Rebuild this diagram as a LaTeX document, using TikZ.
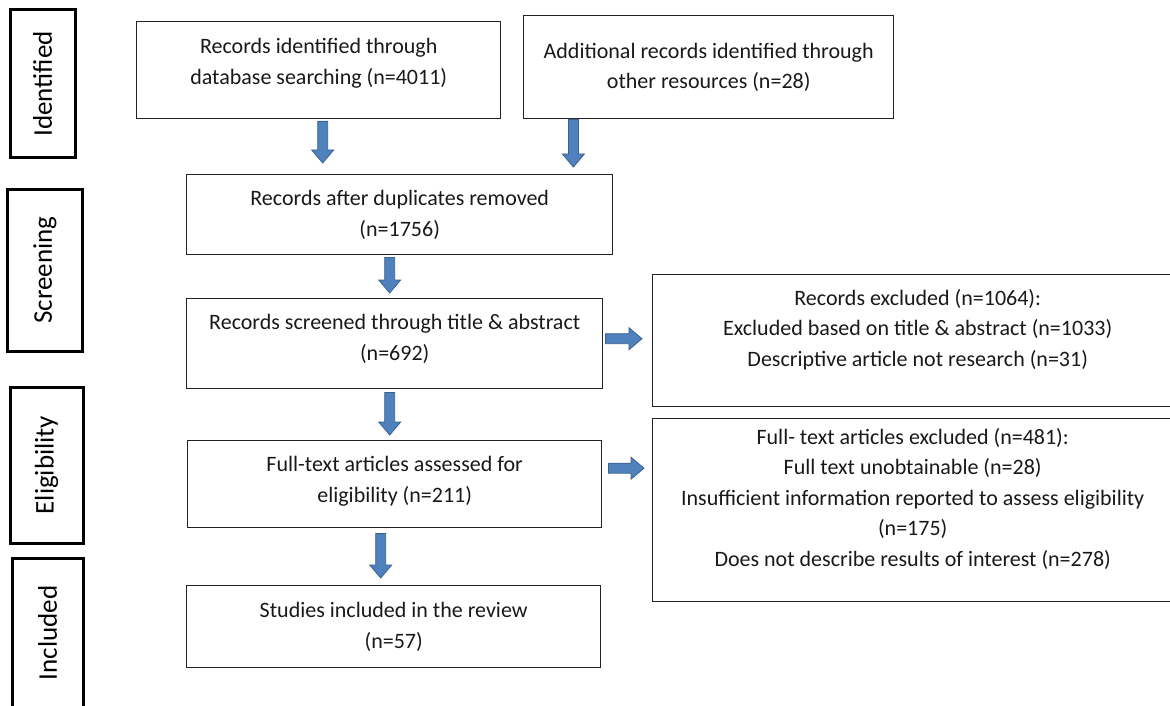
\documentclass[tikz,border=0pt]{standalone}
\usepackage{fontspec}
\setmainfont{Carlito}
\usepackage{tikz}
\usetikzlibrary{calc}
\definecolor{arrowblue}{RGB}{79,129,189}
\definecolor{arrowedge}{RGB}{58,96,142}
\definecolor{boxline}{RGB}{35,35,35}
\colorlet{txtcolor}{black!90}
\tikzstyle{stagebox}=[draw=black,line width=3pt,rotate=90,inner sep=0pt,font=\fontsize{27}{30}\selectfont]
\tikzstyle{recbox}=[draw=boxline,line width=1.4pt,anchor=north west,align=center,inner sep=0pt,text=txtcolor,font=\fontsize{22}{30.5}\selectfont]
\tikzstyle{blockarrow}=[draw=arrowedge,fill=arrowblue,line width=.8pt,
  to path={let \p1=(\tikztostart), \p2=(\tikztotarget), \p3=($(\p2)!13pt!(\p1)$) in
    ($(\p1)!5pt!90:(\p2)$) -- ($(\p3)!5pt!-90:(\p1)$) -- ($(\p3)!11pt!-90:(\p1)$) -- (\p2)
    -- ($(\p3)!11pt!90:(\p1)$) -- ($(\p3)!5pt!90:(\p1)$) -- ($(\p1)!5pt!-90:(\p2)$) -- cycle}]

\begin{document}
\begin{tikzpicture}[x=1pt,y=-1pt]
	\useasboundingbox (0,0) rectangle (1170,706);
	\clip (0,0) rectangle (1170,706);
	% stages
	\node[stagebox,minimum width=148pt,minimum height=65pt] (idf) at (42.5,84) {Identified};
	\node[stagebox,minimum width=162pt,minimum height=75pt] (scr) at (45,270) {Screening};
	\node[stagebox,minimum width=156pt,minimum height=73pt] (elg) at (46.5,465) {Eligibility};
	\node[stagebox,minimum width=150pt,minimum height=71pt] (inc) at (47.5,633) {Included};
	%
	\node[recbox,minimum width=364pt,minimum height=97pt] (a) at (136,21) {Records identified through\\database searching (n=4011)\\[-13pt]};
	\node[recbox,minimum width=370pt,minimum height=103pt] (b) at (523,15) {Additional records identified through\\other resources (n=28)};
	\node[recbox,minimum width=426pt,minimum height=80pt] (c) at (186,174) {Records after duplicates removed\\(n=1756)};
	\node[recbox,minimum width=416pt,minimum height=90pt] (d) at (186,298) {Records screened through title \& abstract\\(n=692)\\[-18pt]};
	\node[recbox,minimum width=414pt,minimum height=87pt] (g) at (187,440) {Full-text articles assessed for\\eligibility (n=211)\\[-21pt]};
	\node[recbox,minimum width=414pt,minimum height=82pt] (h) at (186,585) {Studies included in the review\\(n=57)};
	%
	\node[recbox,minimum width=530pt,minimum height=132pt] (e) at (652,274) {Records excluded (n=1064):\\Excluded based on title \& abstract (n=1033)\\Descriptive article not research (n=31)\\[-5pt]};
	\node[recbox,minimum width=520pt,minimum height=183pt] (f) at (652,418) {Full- text articles excluded (n=481):\\Full text unobtainable (n=28)\\Insufficient information reported to assess eligibility\\(n=175)\\Does not describe results of interest (n=278)\\[-4pt]};
	%
	\draw[blockarrow] ([xshift=4pt,yshift=-2pt]a.south) to ([xshift=4pt,yshift=11pt]a.south |- c.north);
	\draw[blockarrow] ([xshift=-40pt]c.north east |- b.south) to ([xshift=-40pt,yshift=7pt]c.north east);
	\draw[blockarrow] ([xshift=-10pt,yshift=-2pt]c.south) to ([xshift=-10pt,yshift=5pt]c.south |- d.north);
	\draw[blockarrow] ([xshift=2pt,yshift=5pt]d.east) to ([xshift=-10pt,yshift=5pt]d.east -| e.west);
	\draw[blockarrow] ([xshift=-5pt,yshift=-3pt]d.south) to ([xshift=-5pt,yshift=5pt]d.south |- g.north);
	\draw[blockarrow] ([xshift=6pt,yshift=16pt]g.east) to ([xshift=-8pt,yshift=16pt]g.east -| f.west);
	\draw[blockarrow] ([xshift=-14pt,yshift=-5pt]g.south) to ([xshift=-14pt,yshift=7pt]g.south |- h.north);
\end{tikzpicture}
\end{document}
